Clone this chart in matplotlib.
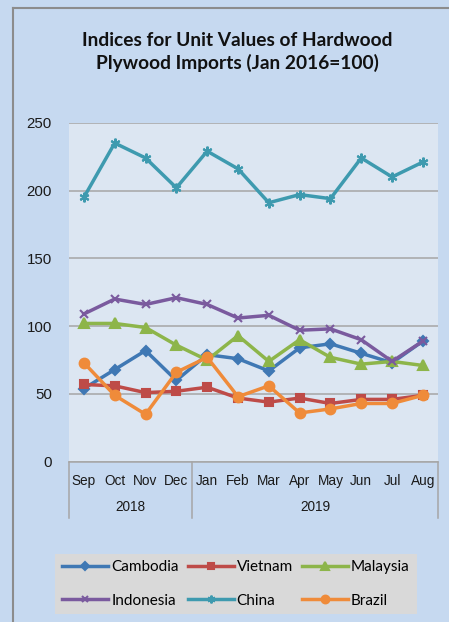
import matplotlib
matplotlib.use("Agg")
import matplotlib.pyplot as plt
from matplotlib.lines import Line2D
import matplotlib.transforms as mtransforms

months = ["Sep", "Oct", "Nov", "Dec", "Jan", "Feb", "Mar", "Apr", "May", "Jun", "Jul", "Aug"]
years = ["2018", "2019"]
year_spans = [(0, 3), (4, 11)]

cambodia = [54, 68, 82, 60, 79, 76, 67, 84, 87, 80, 73, 89]
vietnam = [57, 56, 51, 52, 55, 47, 44, 47, 43, 46, 46, 49]
malaysia = [102, 102, 99, 86, 75, 93, 74, 90, 77, 72, 74, 71]
indonesia = [109, 120, 116, 121, 116, 106, 108, 97, 98, 90, 74, 89]
china = [195, 235, 224, 202, 229, 216, 191, 197, 194, 224, 210, 221]
brazil = [73, 49, 35, 66, 77, 48, 56, 36, 39, 43, 43, 49]

series = [
    ("Cambodia", cambodia, "#3F78B4", "D", 5),
    ("Vietnam", vietnam, "#BE4B48", "s", 6),
    ("Malaysia", malaysia, "#8DB54A", "^", 7),
    ("Indonesia", indonesia, "#7A5A9E", "x", 6),
    ("China", china, "#3E9AAF", (6, 2, 0), 7),
    ("Brazil", brazil, "#EF8B3A", "o", 7),
]

W, H = 449, 622
fig = plt.figure(figsize=(W / 100, H / 100), dpi=100)
fig.patch.set_facecolor("#C6D9F0")

# outer frame (left and top edges visible)
fig.add_artist(Line2D([12.5 / W, 12.5 / W], [0, 1 - 7.5 / H], color="#8C8C8C", lw=1.5, transform=fig.transFigure))
fig.add_artist(Line2D([12.5 / W, 1], [1 - 7.5 / H, 1 - 7.5 / H], color="#8C8C8C", lw=1.5, transform=fig.transFigure))

left, right = 68.5, 438.3
top, bottom = 122.7, 461.8
ax = fig.add_axes([left / W, 1 - bottom / H, (right - left) / W, (bottom - top) / H])
ax.set_facecolor("#DCE6F2")

x = list(range(len(months)))
handles = {}
for name, vals, col, mk, ms in series:
    (h,) = ax.plot(x, vals, color=col, lw=2.5, marker=mk, markersize=ms,
                   markeredgecolor=col, markerfacecolor=col, markeredgewidth=1.5,
                   label=name, clip_on=False, zorder=3)
    handles[name] = h

ax.set_xlim(-0.5, len(months) - 0.5)
ax.set_ylim(0, 250)
ax.set_yticks([0, 50, 100, 150, 200, 250])
ax.yaxis.grid(True, color="#A6A6A6", lw=1.1)
ax.set_axisbelow(True)
for s in ["top", "right", "left"]:
    ax.spines[s].set_visible(False)
ax.spines["bottom"].set_color("#A6A6A6")
ax.spines["bottom"].set_linewidth(1.1)
ax.tick_params(axis="y", length=0, pad=12, labelsize=10.8, labelcolor="#1A1A1A")
ax.set_xticks(x)
ax.set_xticklabels(months, fontsize=9.8, color="#1A1A1A")
ax.tick_params(axis="x", length=0, pad=9)
for lbl in ax.get_yticklabels() + ax.get_xticklabels():
    lbl.set_fontfamily("Liberation Sans")

axh = bottom - top
trans = mtransforms.blended_transform_factory(ax.transData, ax.transAxes)
for yr, (a, b) in zip(years, year_spans):
    ax.text((a + b) / 2, -(507 - bottom) / axh, yr, transform=trans, ha="center", va="center",
            fontsize=9.8, family="Liberation Sans", color="#1A1A1A")
for xb in [-0.5, 3.5, 11.5]:
    ax.add_line(Line2D([xb, xb], [0, -(518 - bottom) / axh], transform=trans, color="#A6A6A6",
                       lw=1.1, clip_on=False))

fig.text(237 / W, 1 - 40 / H, "Indices for Unit Values of Hardwood", ha="center", va="center",
         fontsize=13.8, fontweight="bold", family="Lato", color="#111111")
fig.text(237 / W, 1 - 62.5 / H, "Plywood Imports (Jan 2016=100)", ha="center", va="center",
         fontsize=13.8, fontweight="bold", family="Lato", color="#111111")

order = ["Cambodia", "Indonesia", "Vietnam", "China", "Malaysia", "Brazil"]
leg = fig.legend([handles[n] for n in order], order, ncol=3, loc="center",
                 bbox_to_anchor=(236 / W, 1 - 584 / H), frameon=True, fancybox=False,
                 facecolor="#D9D9D9", edgecolor="#D9D9D9", framealpha=1,
                 prop={"family": "Lato", "size": 11}, handlelength=3.0, handletextpad=0.2,
                 columnspacing=0.6, labelspacing=1.25, borderpad=0.45, markerscale=0.8)
leg.get_frame().set_linewidth(0)

fig.savefig("out.png", dpi=100, facecolor=fig.get_facecolor())
